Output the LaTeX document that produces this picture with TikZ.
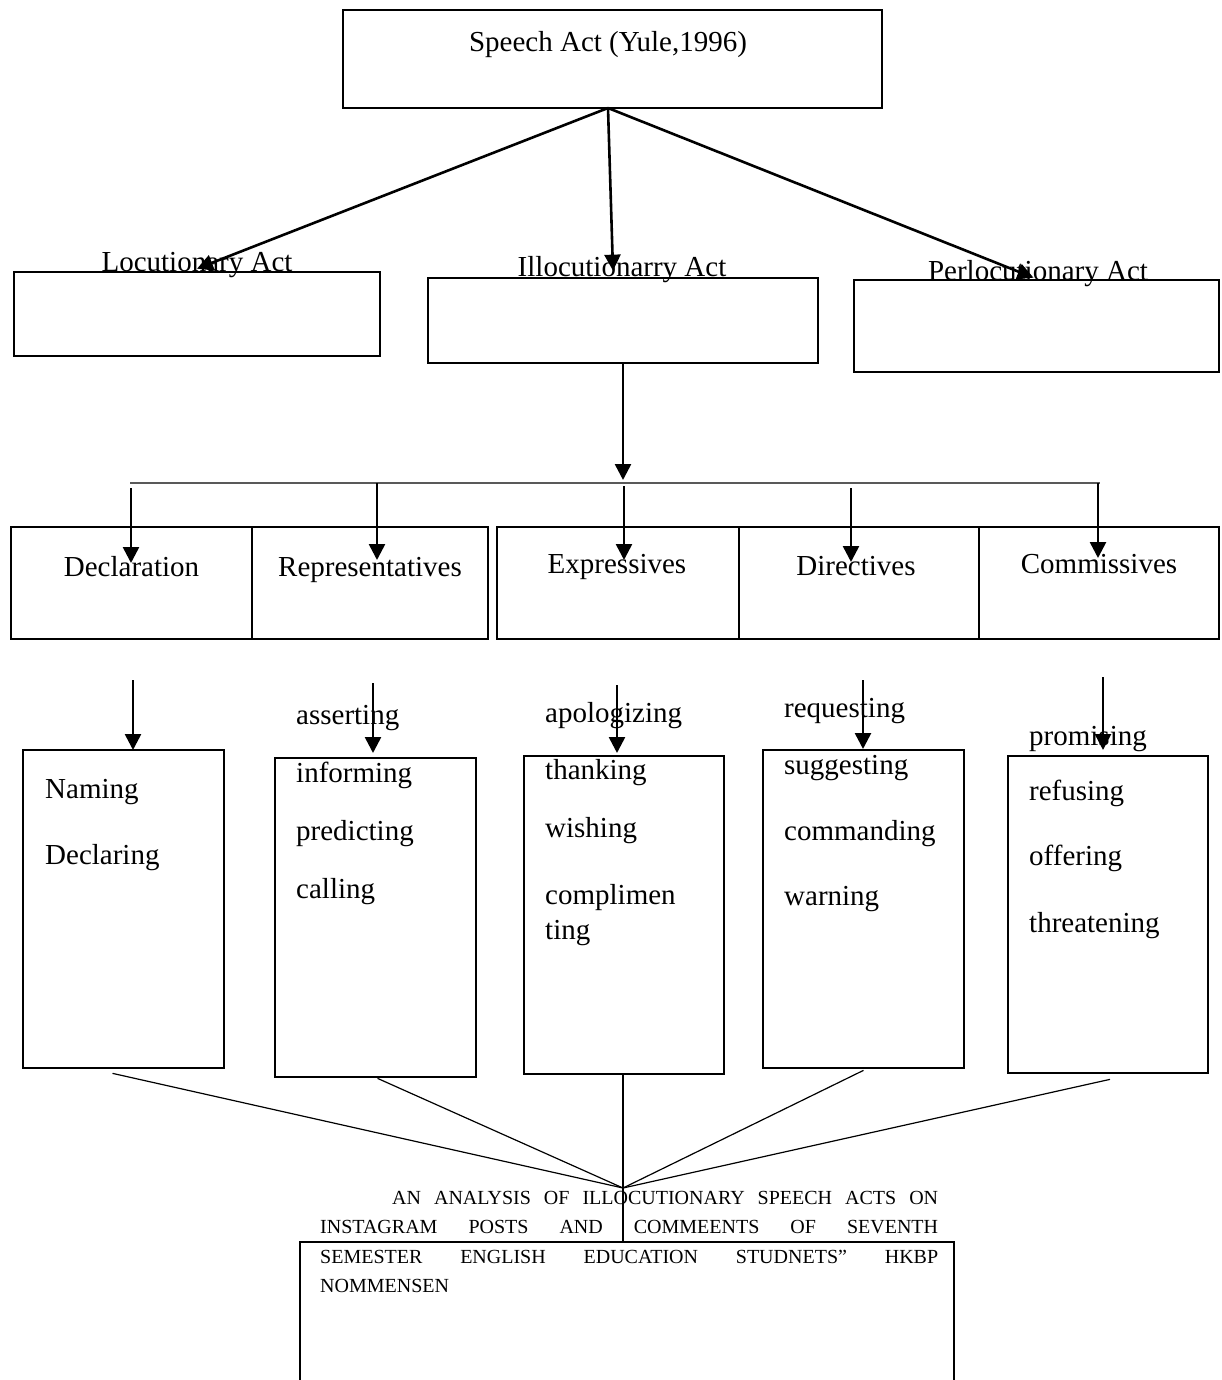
\documentclass[tikz,border=0pt]{standalone}
\usepackage{fontspec}
\setmainfont{Liberation Serif}
\usetikzlibrary{arrows.meta}

\tikzset{
	box/.style={draw, line width=2.7pt, inner sep=0pt},
	word/.style={font=\fontsize{29}{34}\selectfont, inner sep=0pt, text height=20pt, text depth=6pt},
	act/.style={-{Triangle[length=16pt,width=16pt]}, line width=2.6pt},
	busline/.style={draw=black!65, line width=2pt},
	fan/.style={line width=1.2pt}
}

\begin{document}
\begin{tikzpicture}[x=1pt,y=-1pt]
			\useasboundingbox (0,0) rectangle (1221,1380);

			% speech act and its three kinds
			\node (speech)[box, minimum width=539pt, minimum height=98pt] at (612.5,59) {};
			\node (speechlbl)[word] at (608,45) {Speech Act (Yule,1996)};

			\node (loc)[box, minimum width=366pt, minimum height=84pt] at (197,314) {};
			\node (ill)[box, minimum width=390pt, minimum height=85pt] at (623,320.5) {};
			\node (perl)[box, minimum width=365pt, minimum height=92pt] at (1036.5,326) {};
			\node (loclbl)[word] at (197,264) {Locutionary Act};
			\node (illlbl)[word] at (622,269) {Illocutionarry Act};
			\node (perllbl)[word] at (1038,273) {Perlocutionary Act};

			\coordinate (root) at (608,108);
			\draw [act](root) -- ([yshift=2pt]loc.north);
			\draw [act](root) -- ([xshift=-10pt,yshift=6pt]ill.north);
			\draw [act](root) -- ([xshift=-3pt,yshift=1pt]perl.north);

			% the five illocutionary acts
			\coordinate (busl) at (130,483);
			\coordinate (busm) at (623,483);
			\coordinate (busr) at (1100,483);
			\draw [busline](busl) -- (busr);
			\draw [act](ill.south) -- ([yshift=3pt]busm);

			\node (decl)[box, minimum width=241pt, minimum height=112pt] at (131.5,583) {};
			\node (repr)[box, minimum width=236pt, minimum height=112pt] at (370,583) {};
			\node (expr)[box, minimum width=242pt, minimum height=112pt] at (618,583) {};
			\node (dire)[box, minimum width=240pt, minimum height=112pt] at (859,583) {};
			\node (comm)[box, minimum width=240pt, minimum height=112pt] at (1099,583) {};
			\node (decllbl)[word] at (131.5,569) {Declaration};
			\node (reprlbl)[word] at (370,569) {Representatives};
			\node (exprlbl)[word] at (617,566) {Expressives};
			\node (direlbl)[word] at (856,568) {Directives};
			\node (commlbl)[word] at (1099,566) {Commissives};

			\foreach \n/\x/\ya/\yb in {decl/131/488/563, repr/377/483/560, expr/624/486/560, dire/851/488/562, comm/1098/483/558}{
				\coordinate (\n top) at (\x,\ya);
				\coordinate (\n tip) at (\x,\yb);
				\draw [act](\n top) -- (\n tip);
			}

			% examples of each act
			\node (low1)[box, minimum width=201pt, minimum height=318pt] at (123.5,909) {};
			\node (low2)[box, minimum width=201pt, minimum height=319pt] at (375.5,917.5) {};
			\node (low3)[box, minimum width=200pt, minimum height=318pt] at (624,915) {};
			\node (low4)[box, minimum width=201pt, minimum height=318pt] at (863.5,909) {};
			\node (low5)[box, minimum width=200pt, minimum height=317pt] at (1108,914.5) {};

			\foreach \t/\y [count=\i] in {Naming/791, Declaring/857}
				\node (ex1\i)[word, anchor=west] at (45,\y) {\t};
			\foreach \t/\y [count=\i] in {asserting/717, informing/775, predicting/833, calling/891}
				\node (ex2\i)[word, anchor=west] at (296,\y) {\t};
			\foreach \t/\y [count=\i] in {apologizing/715, thanking/772, wishing/830, complimen/897, ting/932}
				\node (ex3\i)[word, anchor=west] at (545,\y) {\t};
			\foreach \t/\y [count=\i] in {requesting/710, suggesting/767, commanding/833, warning/898}
				\node (ex4\i)[word, anchor=west] at (784,\y) {\t};
			\foreach \t/\y [count=\i] in {promising/738, refusing/793, offering/858, threatening/925}
				\node (ex5\i)[word, anchor=west] at (1029,\y) {\t};

			\foreach \n/\x/\ya/\yb in {1/133/680/750, 2/373/683/753, 3/617/685/753, 4/863/680/749, 5/1103/677/750}{
				\coordinate (src\n) at (\x,\ya);
				\coordinate (dst\n) at (\x,\yb);
				\draw [act](src\n) -- (dst\n);
			}

			% all of them lead to the study
			\coordinate (hub) at (623,1188);
			\draw [fan]([xshift=-11pt,yshift=-4pt]low1.south) -- (hub);
			\draw [fan]([xshift=2pt]low2.south) -- (hub);
			\draw [fan]([xshift=-1pt]low3.south) -- (hub);
			\draw [fan]([yshift=-1pt]low4.south) -- (hub);
			\draw [fan]([xshift=2pt,yshift=-5pt]low5.south) -- (hub);

			\node (thesis)[box, minimum width=654pt, minimum height=140pt] at (627,1312) {};
			\draw [line width=2.6pt](hub) -- (hub |- thesis.north);

			\node (title)[anchor=base west, inner sep=0pt, text width=618pt, align=justify,
				font=\fontsize{20}{29.5}\selectfont] at (320,1204)
				{\tolerance=10000 \hspace*{72pt}AN ANALYSIS OF ILLOCUTIONARY SPEECH ACTS ON\linebreak
				INSTAGRAM POSTS AND COMMEENTS OF SEVENTH\linebreak
				SEMESTER ENGLISH EDUCATION STUDNETS'' HKBP\linebreak
				NOMMENSEN};
		\end{tikzpicture}
\end{document}
